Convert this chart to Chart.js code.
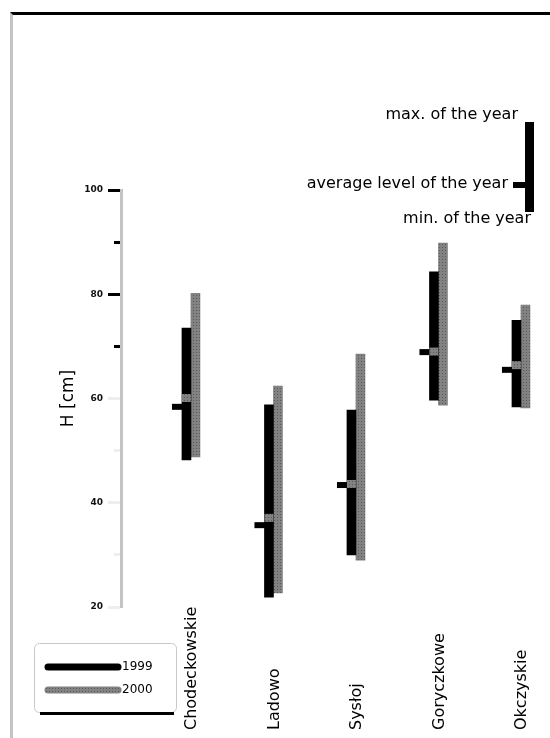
<!DOCTYPE html>
<html>
<head>
<meta charset="utf-8">
<script src="https://cdn.jsdelivr.net/npm/chart.js@4.4.0/dist/chart.umd.min.js"></script>
<style>
html, body { margin: 0; padding: 0; background: #fff; }
#wrap { position: relative; width: 550px; height: 738px; overflow: hidden; }
#frame { position: absolute; left: 10px; top: 12px; right: 0; bottom: 0; border-top: 3px solid #000; border-left: 3px solid #c4c4c4; }
canvas { position: absolute; left: 0; top: 0; }
</style>
</head>
<body>
<div id="wrap">
  <div id="frame"></div>
  <canvas id="lakeChart" width="550" height="738"></canvas>
</div>
<script>
const lakes = ["Chodeckowskie", "Ladowo", "Sysłoj", "Goryczkowe", "Okczyskie"];
const years = ["1999", "2000"];
const min1999 = [48.2, 21.9, 30.0, 59.7, 58.4];
const max1999 = [73.5, 58.8, 57.8, 84.3, 75.0];
const avg1999 = [58.4, 35.7, 43.4, 68.9, 65.5];
const min2000 = [48.8, 22.7, 29.0, 58.7, 58.2];
const max2000 = [80.2, 62.4, 68.5, 89.8, 77.9];
const avg2000 = [60.1, 37.1, 43.6, 69.0, 66.4];
const yTicks = [20, 40, 60, 80, 100];

const font = "'DejaVu Sans', sans-serif";

// grey bars have a dotted look in the original
function dotPattern() {
    const c = document.createElement("canvas");
    c.width = 3; c.height = 3;
    const g = c.getContext("2d");
    g.fillStyle = "#828282";
    g.fillRect(0, 0, 3, 3);
    g.fillStyle = "#5a5a5a";
    g.fillRect(1, 1, 1, 1);
    return g.createPattern(c, "repeat");
}
const grayFill = dotPattern();

const avgMarks = {
    id: "avgMarks",
    afterDatasetsDraw(chart) {
        const ctx = chart.ctx;
        const y = chart.scales.y;
        const black = chart.getDatasetMeta(0).data;
        const gray = chart.getDatasetMeta(1).data;
        ctx.save();
        black.forEach((bar, i) => {
            const py = y.getPixelForValue(avg1999[i]);
            const left = bar.x - bar.width / 2;
            ctx.fillStyle = "#000";
            ctx.fillRect(left - 10, py - 3, 10 + bar.width, 6);
        });
        gray.forEach((bar, i) => {
            const py = y.getPixelForValue(avg2000[i]);
            const left = bar.x - bar.width / 2;
            ctx.fillStyle = grayFill;
            ctx.fillRect(left - bar.width, py - 4, bar.width, 8);
        });
        ctx.restore();
    }
};

const lakeLabels = {
    id: "lakeLabels",
    afterDraw(chart) {
        const ctx = chart.ctx;
        const x = chart.scales.x;
        ctx.save();
        ctx.fillStyle = "#000";
        ctx.font = "16px " + font;
        ctx.textAlign = "left";
        ctx.textBaseline = "middle";
        lakes.forEach((name, i) => {
            ctx.save();
            ctx.translate(x.getPixelForValue(i) + 1, 730);
            ctx.rotate(-Math.PI / 2);
            ctx.fillText(name, 0, 0);
            ctx.restore();
        });
        ctx.restore();
    }
};

// key in the top right corner and the legend box bottom left
const keyAndLegend = {
    id: "keyAndLegend",
    afterDraw(chart) {
        const ctx = chart.ctx;
        ctx.save();
        ctx.fillStyle = "#000";
        ctx.fillRect(525, 122, 9, 90);
        ctx.fillRect(513, 182, 12, 6);
        ctx.font = "16px " + font;
        ctx.textAlign = "right";
        ctx.textBaseline = "middle";
        ctx.fillText("max. of the year", 518, 115);
        ctx.fillText("average level of the year", 508, 184);
        ctx.fillText("min. of the year", 531, 219);

        ctx.strokeStyle = "#c8c8c8";
        ctx.lineWidth = 1;
        ctx.beginPath();
        ctx.roundRect(34.5, 643.5, 142, 69, 5);
        ctx.stroke();
        ctx.fillStyle = "#000";
        ctx.fillRect(40, 712, 134, 3);

        ctx.lineCap = "round";
        ctx.font = "12px " + font;
        ctx.textAlign = "left";
        chart.data.datasets.forEach((ds, i) => {
            const ly = 667 + i * 23;
            ctx.strokeStyle = ds.backgroundColor;
            ctx.lineWidth = 7;
            ctx.beginPath();
            ctx.moveTo(48, ly);
            ctx.lineTo(118, ly);
            ctx.stroke();
            ctx.fillStyle = "#000";
            ctx.fillText(ds.label, 122, ly);
        });
        ctx.restore();
    }
};

new Chart(document.getElementById("lakeChart"), {
    type: "bar",
    data: {
        datasets: [
            {
                label: years[0],
                data: lakes.map((_, i) => ({ x: i, y: [min1999[i], max1999[i]] })),
                backgroundColor: "#000",
                barThickness: 9
            },
            {
                label: years[1],
                data: lakes.map((_, i) => ({ x: i, y: [min2000[i], max2000[i]] })),
                backgroundColor: grayFill,
                barThickness: 9
            }
        ]
    },
    options: {
        responsive: false,
        devicePixelRatio: 1,
        animation: false,
        layout: { padding: { left: 58, top: 190, right: 0, bottom: 131 } },
        plugins: {
            legend: { display: false },
            tooltip: { enabled: false }
        },
        scales: {
            x: {
                type: "linear",
                min: -0.848,
                max: 4.352,
                offset: false,
                display: false
            },
            y: {
                min: 20,
                max: 100,
                afterFit(scale) { scale.width = 63; },
                border: { color: "#c4c4c4", width: 3 },
                grid: {
                    drawOnChartArea: false,
                    tickLength: 13,
                    tickWidth: 3,
                    tickColor: (c) => c.tick && c.tick.value >= 70 ? "#000" : "#eeeeee",
                    tickBorderDash: (c) => c.tick && c.tick.value % 20 ? [0, 6, 7, 0] : []
                },
                ticks: {
                    stepSize: 10,
                    padding: 5,
                    color: "#111",
                    font: { family: "DejaVu Sans", size: 9, weight: "bold" },
                    callback: (v) => yTicks.includes(v) ? v : ""
                },
                title: {
                    display: true,
                    text: "H [cm]",
                    color: "#000",
                    padding: 0,
                    font: { family: "DejaVu Sans", size: 17 }
                }
            }
        }
    },
    plugins: [avgMarks, lakeLabels, keyAndLegend]
});
</script>
</body>
</html>
